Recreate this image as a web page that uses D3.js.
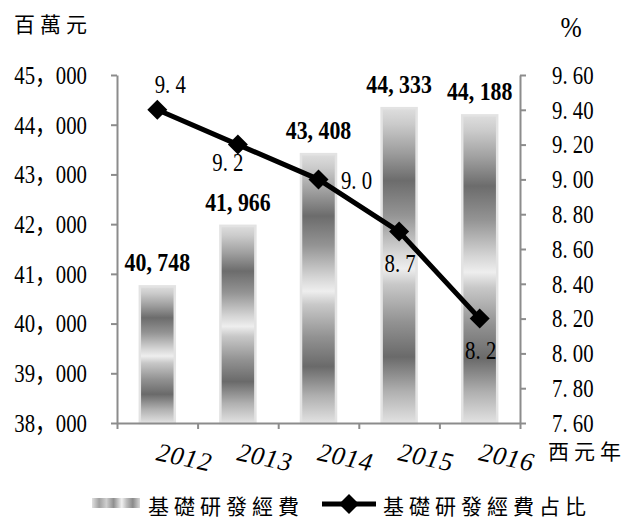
<!DOCTYPE html>
<html>
<head>
<meta charset="utf-8">
<script src="https://cdn.jsdelivr.net/npm/d3@7/dist/d3.min.js"></script>
<style>
  body { margin: 0; background: #fff; }
  svg { display: block; }
</style>
</head>
<body>
<svg id="chart" width="630" height="521"></svg>
<script>
// ---- data ----
const years = ["2012", "2013", "2014", "2015", "2016"];
const funding = [40748, 41966, 43408, 44333, 44188];      // 基礎研發經費 (百萬元)
const share = [9.4, 9.2, 9.0, 8.7, 8.2];                   // 基礎研發經費占比 (%)
const leftTicks = [38000, 39000, 40000, 41000, 42000, 43000, 44000, 45000];
const rightTicks = [7.6, 7.8, 8.0, 8.2, 8.4, 8.6, 8.8, 9.0, 9.2, 9.4, 9.6];
const leftUnit = "百萬元";
const rightUnit = "%";
const xUnit = "西元年";
const legendLabels = ["基礎研發經費", "基礎研發經費占比"];
// where each share label sits relative to its marker
const shareLabelSide = ["above", "belowLeft", "right", "below", "below"];

// ---- layout ----
const plot = { left: 117, right: 520, top: 75, bottom: 423 };
const NUM_FONT = "'Liberation Serif', 'Noto Sans CJK JP', serif";
const CJK_FONT = "'Noto Sans CJK TC', 'Noto Sans CJK JP', sans-serif";
const SQ = 0.8; // horizontal squeeze for the tall, narrow numerals

const svg = d3.select("#chart");

const x = d3.scaleBand()
  .domain(years)
  .range([plot.left, plot.right])
  .paddingInner(0.566)
  .paddingOuter(0.283);
const xEdge = d3.scaleLinear().domain([0, years.length]).range([plot.left, plot.right]);
const yL = d3.scaleLinear().domain([38000, 45000]).range([plot.bottom, plot.top]);
const yR = d3.scaleLinear().domain([7.6, 9.6]).range([plot.bottom, plot.top]);
const cx = d => x(d) + x.bandwidth() / 2;

const fmtTick = v => d3.format(",")(v).replace(",", "，");
const fmtBar = v => d3.format(",")(v).replace(",", ", ");
const fmtPct2 = v => d3.format(".2f")(v).replace(".", ". ");
const fmtPct1 = v => d3.format(".1f")(v).replace(".", ". ");

// squeeze text horizontally while keeping its anchor position
function squeeze(sel, k) {
  sel.each(function () {
    const t = d3.select(this);
    const x0 = +t.attr("x") || 0;
    t.attr("x", x0 / k).attr("transform", `scale(${k},1)`);
  });
}
function numText(parent, px, py, str, opts = {}) {
  const g = parent.append("g").attr("transform", `translate(${px},${py})`);
  g.append("text")
    .attr("transform", `scale(${opts.k || SQ},1)`)
    .attr("text-anchor", opts.anchor || "middle")
    .attr("dy", "0.35em")
    .attr("font-family", NUM_FONT)
    .attr("font-size", opts.size || 26)
    .attr("font-weight", opts.weight || "normal")
    .attr("fill", "#000")
    .text(str);
  return g;
}

// ---- bar fill ----
const defs = svg.append("defs");
const barGrad = defs.append("linearGradient")
  .attr("id", "barFill").attr("x1", 0).attr("y1", 0).attr("x2", 0).attr("y2", 1);
[
  [0.00, "#dedede"], [0.05, "#cbcbcb"], [0.14, "#9e9e9e"], [0.23, "#6c6c6c"],
  [0.34, "#949494"], [0.46, "#d6d6d6"], [0.51, "#eeeeee"], [0.56, "#c8c8c8"],
  [0.68, "#929292"], [0.79, "#6a6a6a"], [0.90, "#b0b0b0"], [1.00, "#e2e2e2"]
].forEach(([o, c]) => barGrad.append("stop").attr("offset", o).attr("stop-color", c));

const legGrad = defs.append("linearGradient")
  .attr("id", "legFill").attr("x1", 0).attr("y1", 0).attr("x2", 1).attr("y2", 0);
[
  [0.00, "#e0e0e0"], [0.15, "#a0a0a0"], [0.30, "#cfcfcf"], [0.45, "#8f8f8f"],
  [0.62, "#f0f0f0"], [0.72, "#bdbdbd"], [0.85, "#8a8a8a"], [1.00, "#d8d8d8"]
].forEach(([o, c]) => legGrad.append("stop").attr("offset", o).attr("stop-color", c));

// ---- bars ----
const barData = years.map((yr, i) => ({ yr, v: funding[i] }));
svg.append("g").selectAll("rect")
  .data(barData).join("rect")
  .attr("x", d => x(d.yr)).attr("width", x.bandwidth())
  .attr("y", d => yL(d.v)).attr("height", d => yL.range()[0] - yL(d.v))
  .attr("fill", "url(#barFill)")
  .attr("stroke", "#e3e3e3").attr("stroke-width", 2.5);

// ---- axes ----
function styleAxis(g) {
  g.select(".domain").attr("stroke", "#8c8c8c").attr("stroke-width", 2);
  g.selectAll(".tick line").attr("stroke", "#8c8c8c").attr("stroke-width", 2);
  g.selectAll(".tick text")
    .attr("font-family", NUM_FONT).attr("font-size", 26).attr("fill", "#000");
}

const gx = svg.append("g")
  .attr("transform", `translate(0,${plot.bottom})`)
  .call(d3.axisBottom(xEdge).tickValues(d3.range(years.length + 1))
    .tickSize(6).tickSizeOuter(0).tickFormat(""));
styleAxis(gx);

const gl = svg.append("g")
  .attr("transform", `translate(${plot.left},0)`)
  .call(d3.axisLeft(yL).tickValues(leftTicks).tickSize(6).tickSizeOuter(0)
    .tickPadding(24).tickFormat(fmtTick));
styleAxis(gl);
squeeze(gl.selectAll(".tick text"), SQ);

const gr = svg.append("g")
  .attr("transform", `translate(${plot.right},0)`)
  .call(d3.axisRight(yR).tickValues(rightTicks).tickSize(6).tickSizeOuter(0)
    .tickPadding(26).tickFormat(fmtPct2));
styleAxis(gr);
squeeze(gr.selectAll(".tick text"), SQ);

// year labels, italic and tilted
svg.append("g").selectAll("text")
  .data(years).join("text")
  .attr("transform", d => `translate(${cx(d) - 2},${plot.bottom + 37}) rotate(12)`)
  .attr("font-family", NUM_FONT).attr("font-style", "italic")
  .attr("font-size", 26).attr("letter-spacing", 1).attr("fill", "#000")
  .text(d => d);

// ---- bar value labels ----
const barLabels = svg.append("g");
barData.forEach(d => {
  numText(barLabels, cx(d.yr), yL(d.v) - 24, fmtBar(d.v), { weight: "bold", k: 0.84 });
});

// ---- share line ----
const shareData = years.map((yr, i) => ({ yr, v: share[i], side: shareLabelSide[i] }));
svg.append("path")
  .datum(shareData)
  .attr("fill", "none").attr("stroke", "#000").attr("stroke-width", 5)
  .attr("stroke-linejoin", "round")
  .attr("d", d3.line().x(d => cx(d.yr)).y(d => yR(d.v)));

const diamond = d3.symbol().type(d3.symbolSquare).size(200);
svg.append("g").selectAll("path")
  .data(shareData).join("path")
  .attr("transform", d => `translate(${cx(d.yr)},${yR(d.v)}) rotate(45)`)
  .attr("d", diamond).attr("fill", "#000");

const sideOffset = {
  above: [13, -26],
  belowLeft: [-10, 17],
  right: [38, 0],
  below: [1, 31]
};
const shareLabels = svg.append("g");
shareData.forEach(d => {
  const [dx, dy] = sideOffset[d.side];
  numText(shareLabels, cx(d.yr) + dx, yR(d.v) + dy, fmtPct1(d.v));
});

// ---- unit captions ----
svg.append("text")
  .attr("x", 14).attr("y", 32)
  .attr("font-family", CJK_FONT).attr("font-size", 21).attr("letter-spacing", 5)
  .text(leftUnit);
numText(svg, 571, 26, rightUnit, { size: 30, k: 0.85 });
svg.append("text")
  .attr("x", 548).attr("y", 459)
  .attr("font-family", CJK_FONT).attr("font-size", 21).attr("letter-spacing", 5)
  .text(xUnit);

// ---- legend ----
const legend = svg.append("g");
legend.append("rect")
  .attr("x", 92).attr("y", 498).attr("width", 48).attr("height", 10)
  .attr("fill", "url(#legFill)");
legend.append("text")
  .attr("x", 148).attr("y", 514)
  .attr("font-family", CJK_FONT).attr("font-size", 21).attr("letter-spacing", 5)
  .text(legendLabels[0]);
legend.append("line")
  .attr("x1", 322).attr("x2", 376).attr("y1", 504).attr("y2", 504)
  .attr("stroke", "#000").attr("stroke-width", 5);
legend.append("path")
  .attr("transform", "translate(349,504) rotate(45)")
  .attr("d", diamond).attr("fill", "#000");
legend.append("text")
  .attr("x", 383).attr("y", 514)
  .attr("font-family", CJK_FONT).attr("font-size", 21).attr("letter-spacing", 5)
  .text(legendLabels[1]);
</script>
</body>
</html>
